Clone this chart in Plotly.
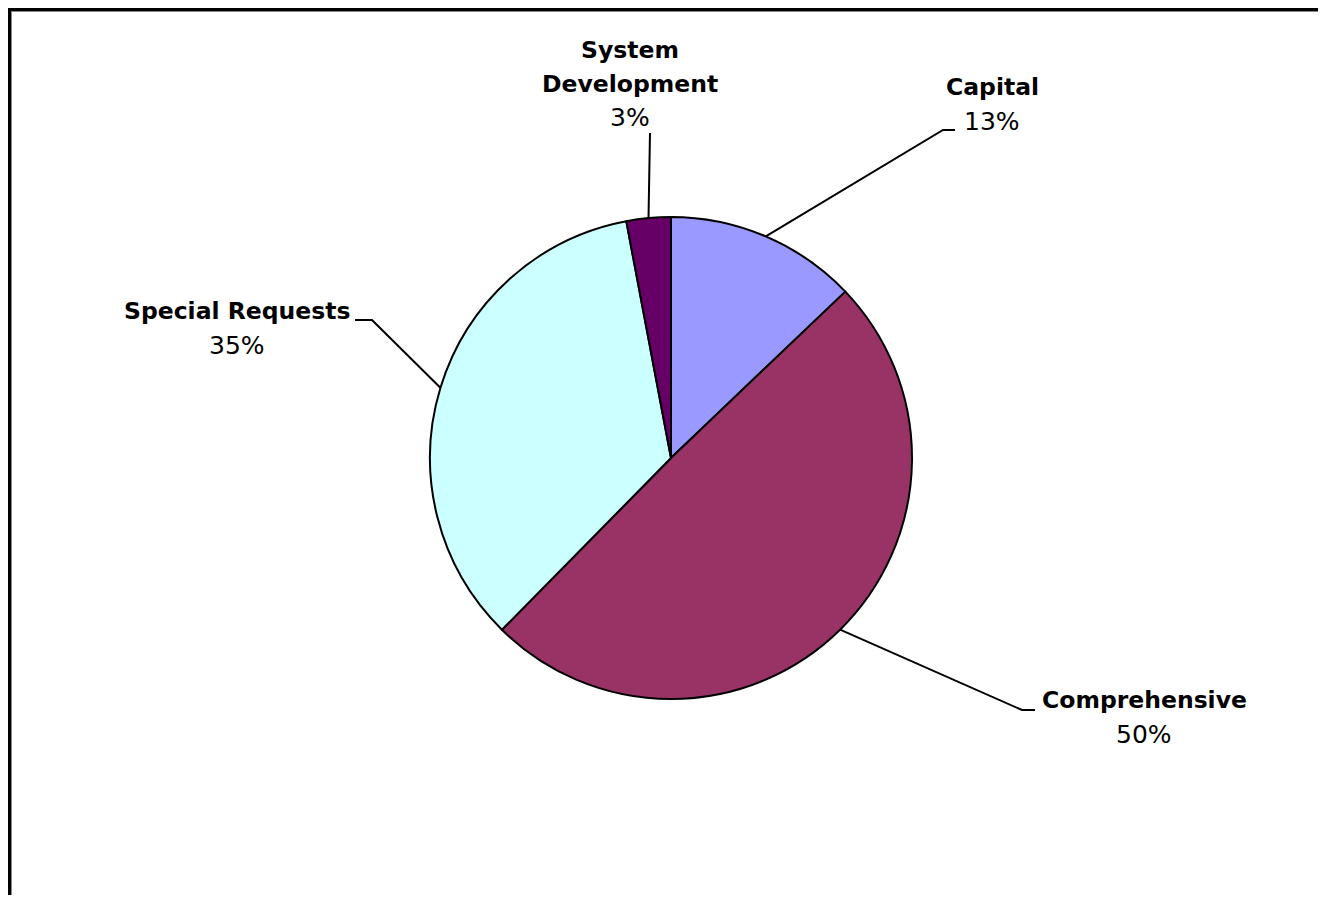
import math
import plotly.graph_objects as go

# ---- data ----
categories = ["Capital", "Comprehensive", "Special Requests", "System Development"]
values = [13, 50, 35, 3]
colors = ["#9999FF", "#993366", "#CCFFFF", "#660066"]

# ---- page geometry (page pixel coords; body margin is 8px) ----
PAGE_W, PAGE_H = 1326, 903
M = 8
FIG_W, FIG_H = PAGE_W - M, PAGE_H - 2 * M
CX, CY, R = 671, 458, 241

dom_x = [(CX - M - R) / FIG_W, (CX - M + R) / FIG_W]
dom_y = [(FIG_H - (CY - M) - R) / FIG_H, (FIG_H - (CY - M) + R) / FIG_H]

fig = go.Figure()
fig.add_trace(go.Pie(
    labels=categories, values=values, sort=False, direction="clockwise",
    rotation=0, textinfo="none", hoverinfo="label+percent",
    marker=dict(colors=colors, line=dict(color="black", width=2)),
    domain=dict(x=dom_x, y=dom_y), showlegend=False,
))

# label layout: (elbow/end points, name line positions, pct position)
label_layout = {
    "Capital": dict(path=[(943, 130), (955, 130)], name=[(992, 87)], pct=(992, 121)),
    "Comprehensive": dict(path=[(1022, 710), (1035, 710)], name=[(1144, 700)], pct=(1144, 734)),
    "Special Requests": dict(path=[(372, 320), (355, 320)], name=[(237, 311)], pct=(237, 345)),
    "System Development": dict(path=[(650, 133)], name=[(630, 50), (630, 84)], pct=(630, 117)),
}

total = sum(values)
cum = 0
shapes = []
annotations = []
font = "DejaVu Sans, Verdana, Arial, sans-serif"
for cat, v in zip(categories, values):
    mid = (cum + v / 2) / total * 2 * math.pi
    cum += v
    sx = CX + R * math.sin(mid)
    sy = CY - R * math.cos(mid)
    lay = label_layout[cat]
    pts = [(sx, sy)] + lay["path"]
    d = "M " + " L ".join(f"{x:.1f},{y:.1f}" for x, y in pts)
    shapes.append(dict(type="path", path=d, xref="x", yref="y",
                       line=dict(color="black", width=2)))
    name_lines = cat.split(" ") if len(lay["name"]) > 1 else [cat]
    for txt, (nx, ny) in zip(name_lines, lay["name"]):
        annotations.append(dict(x=nx, y=ny, xref="x", yref="y", text=f"<b>{txt}</b>",
                                showarrow=False, xanchor="center", yanchor="middle",
                                font=dict(family=font, size=23.5, color="black")))
    pct = round(v / total * 100)
    annotations.append(dict(x=lay["pct"][0], y=lay["pct"][1], xref="x", yref="y",
                            text=f"{pct}%", showarrow=False, xanchor="center",
                            yanchor="middle",
                            font=dict(family=font, size=25, color="black")))

# frame (top and left edges)
shapes += [
    dict(type="line", xref="x", yref="y", x0=M, x1=PAGE_W, y0=9.5, y1=9.5,
         line=dict(color="black", width=3)),
    dict(type="line", xref="x", yref="y", x0=9.5, x1=9.5, y0=M, y1=PAGE_H,
         line=dict(color="black", width=3)),
    dict(type="line", xref="x", yref="y", x0=11, x1=PAGE_W, y0=11.5, y1=11.5,
         line=dict(color="#888888", width=1)),
    dict(type="line", xref="x", yref="y", x0=11.5, x1=11.5, y0=11, y1=PAGE_H,
         line=dict(color="#888888", width=1)),
]

fig.update_layout(
    width=FIG_W, height=FIG_H,
    margin=dict(l=0, r=0, t=0, b=0),
    paper_bgcolor="white", plot_bgcolor="white",
    xaxis=dict(range=[M, M + FIG_W], visible=False, fixedrange=True),
    yaxis=dict(range=[M + FIG_H, M], visible=False, fixedrange=True),
    shapes=shapes, annotations=annotations,
)

fig.write_html("out.html")
